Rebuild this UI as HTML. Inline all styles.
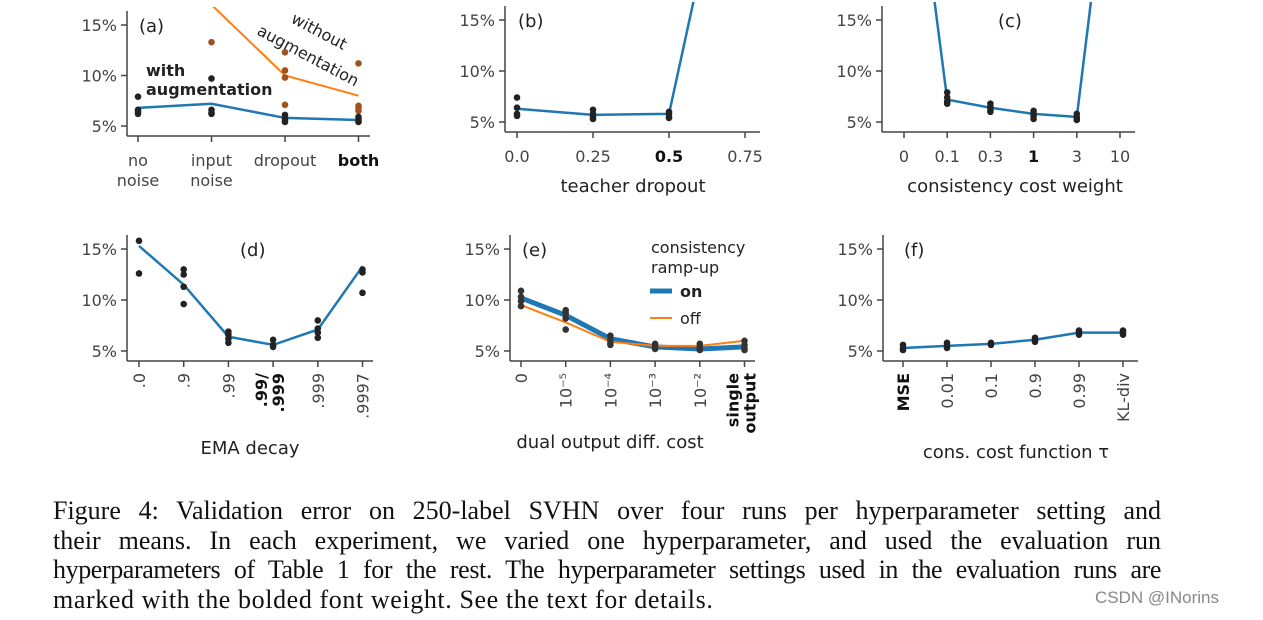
<!DOCTYPE html>
<html><head><meta charset="utf-8"><style>
body{margin:0;background:#fff;width:1263px;height:620px;overflow:hidden}
svg{position:absolute;left:0;top:0}
.cap{position:absolute;left:53px;top:496px;width:1108px;font-family:"Liberation Serif",serif;font-size:26px;line-height:29.5px;color:#111}
.cap div{text-align:justify;text-align-last:justify;white-space:nowrap}
.cap div.last{text-align-last:left}
</style></head><body>
<svg id="fig" width="1263" height="490" font-family="DejaVu Sans, sans-serif"></svg>
<div class="cap">
<div style="white-space:normal">Figure 4: Validation error on 250-label SVHN over four runs per hyperparameter setting and</div>
<div style="white-space:normal">their means. In each experiment, we varied one hyperparameter, and used the evaluation run</div>
<div style="white-space:normal;letter-spacing:-0.4px">hyperparameters of Table 1 for the rest. The hyperparameter settings used in the evaluation runs are</div>
<div class="last" style="letter-spacing:0.6px">marked with the bolded font weight. See the text for details.</div>
</div>
<div style="position:absolute;left:1095px;top:588px;font-family:'Liberation Sans',sans-serif;font-size:17px;color:#888">CSDN @INorins</div>
<script>
const aCats=["no noise","input noise","dropout","both"];
const aWith=[6.8,7.2,5.8,5.6];
const aWithout=[22,17,10,8];
const aDots=[[7.9,6.6,6.4,6.2],[9.7,6.6,6.3,6.2],[6.1,5.8,5.6,5.4],[5.9,5.7,5.5,5.4]];
const aDotsO=[[],[13.3],[12.3,10.5,9.8,7.1],[11.2,7.0,6.8,6.5]];
const bCats=["0.0","0.25","0.5","0.75"];
const bMean=[6.3,5.7,5.8,40];
const bDots=[[7.4,6.4,5.8,5.6],[6.2,5.8,5.5,5.3],[6.0,5.8,5.5,5.4],[]];
const cCats=["0","0.1","0.3","1","3","10"];
const cMean=[40,7.2,6.4,5.8,5.5,40];
const cDots=[[],[7.9,7.4,7.0,6.8],[6.8,6.5,6.2,6.0],[6.1,5.8,5.6,5.3],[5.8,5.5,5.3,5.2],[]];
const dCats=[".0",".9",".99",".99/.999",".999",".9997"];
const dMean=[15.3,11.5,6.4,5.6,7.1,13.3];
const dDots=[[15.8,12.6],[13.0,12.5,11.3,9.6],[6.9,6.6,6.2,5.8],[6.1,5.6,5.4],[8.0,7.2,6.8,6.3],[13.0,12.7,10.7]];
const eCats=["0","10⁻⁵","10⁻⁴","10⁻³","10⁻²","single output"];
const eOn=[10.2,8.5,6.2,5.4,5.2,5.4];
const eOff=[9.5,7.8,5.9,5.5,5.5,6.0];
const eDots=[[10.9,10.3,9.9,9.4],[9.0,8.7,8.2,7.1],[6.5,6.1,5.8,5.6],[5.7,5.5,5.3,5.2],[5.7,5.4,5.2,5.1],[6.0,5.6,5.3,5.1]];
const fCats=["MSE","0.01","0.1","0.9","0.99","KL-div"];
const fMean=[5.3,5.5,5.7,6.1,6.8,6.8];
const fDots=[[5.6,5.3,5.1],[5.8,5.5,5.3],[5.8,5.6],[6.3,6.0,5.9],[7.0,6.8,6.6],[7.0,6.8,6.6]];

const svg=document.getElementById('fig');const NS="http://www.w3.org/2000/svg";
const BLUE="#1f77b4",ORANGE="#ff7f0e",GREY="#444";
function el(t,a,p){const e=document.createElementNS(NS,t);for(const k in a)e.setAttribute(k,a[k]);(p||svg).appendChild(e);return e;}
let clipN=0;
function panel(o){
  const g=el('g',{});
  
  
  const ys=v=>o.y5-(v-5)*(o.y5-o.y15)/10;
  const xs=i=>o.x0+i*o.dx;
  const cid='c'+(clipN++);
  const cp=el('clipPath',{id:cid},g);el('rect',{x:o.ax,y:o.y15-18,width:o.xEnd-o.ax,height:o.bot-o.y15+18},cp);
  const ya=el('line',{x1:o.ax,y1:o.y15-14,x2:o.ax,y2:o.bot,stroke:GREY,'stroke-width':1.5},g);
  
  const xa=el('line',{x1:o.ax,y1:o.bot,x2:o.xEnd,y2:o.bot,stroke:GREY,'stroke-width':1.5},g);
  
  [5,10,15].forEach(v=>{el('line',{x1:o.ax-6,x2:o.ax,y1:ys(v),y2:ys(v),stroke:GREY,'stroke-width':1.5},g);
    const t=el('text',{x:o.ax-10,y:ys(v)+6,'text-anchor':'end','font-size':16,fill:GREY},g);t.textContent=v+'%';
    });
  o.cats.forEach((c,i)=>{el('line',{x1:xs(i),x2:xs(i),y1:o.bot,y2:o.bot+6,stroke:GREY,'stroke-width':1.5},g);
    const bold=i===o.boldIdx;
    if(o.rot){const t=el('text',{transform:`translate(${xs(i)+6},${o.bot+12}) rotate(-90)`,'text-anchor':'end','font-size':16,fill:bold?'#111':GREY,'font-weight':bold?'bold':'normal'},g);
      if(c.includes(' ')){const p=c.split(' ');const a=el('tspan',{x:0,dy:-12},t);a.textContent=p[0];const b=el('tspan',{x:0,dy:17},t);b.textContent=p[1];}
      else if(c.includes('/')){const p=c.split('/');const a=el('tspan',{x:0,dy:-12},t);a.textContent=p[0]+'/';const b=el('tspan',{x:0,dy:17},t);b.textContent=p[1];}
      else t.textContent=c;
      }
    else{const lines=o.wrap?c.split(' '):[c];lines.forEach((l,k)=>{const t=el('text',{x:xs(i),y:o.bot+30+k*20,'text-anchor':'middle','font-size':16,fill:bold?'#111':GREY,'font-weight':bold?'bold':'normal'},g);t.textContent=l;
      });}
  });
  const pg=el('g',{'clip-path':`url(#${cid})`},g);
  (o.series||[]).forEach(s=>{
    const pts=s.v.map((v,i)=>xs(i)+','+ys(v)).join(' ');
    const l=el('polyline',{points:pts,fill:'none',stroke:s.c,'stroke-width':s.w||2.5},pg);
    
  });
  (o.dots||[]).forEach(ds=>ds.d.forEach((arr,i)=>arr.forEach(v=>{
    const c=el('circle',{cx:xs(i),cy:ys(v),r:3.3,fill:ds.c},pg);
    })));
  const lab=el('text',{x:o.lx,y:o.y15+7,'font-size':18,fill:'#222'},g);lab.textContent='('+o.id+')';
  
  if(o.title){const t=el('text',{x:o.tx,y:o.ty,'text-anchor':'middle','font-size':18,fill:'#222'},g);t.textContent=o.title;
    }
  return g;
}
panel({id:'a',cats:aCats,boldIdx:3,wrap:true,x0:138,dx:73.5,ax:127,xEnd:370,y15:25,y5:126,bot:136,lx:139,
  series:[{v:aWithout,c:ORANGE,name:'without-augmentation-line',w:2},{v:aWith,c:BLUE,name:'with-augmentation-line'}],
  dots:[{d:aDotsO,c:'#a0521d'},{d:aDots,c:'#222'}]});
panel({id:'b',cats:bCats,boldIdx:2,x0:517,dx:76,ax:505,xEnd:760,y15:20,y5:122,bot:132,lx:518,title:'teacher dropout',tx:633,ty:192,
  series:[{v:bMean,c:BLUE,name:'mean-line'}],dots:[{d:bDots,c:'#222'}]});
panel({id:'c',cats:cCats,boldIdx:3,x0:904,dx:43.2,ax:882,xEnd:1135,y15:20,y5:122,bot:132,lx:998,title:'consistency cost weight',tx:1015,ty:192,
  series:[{v:cMean,c:BLUE,name:'mean-line'}],dots:[{d:cDots,c:'#222'}]});
panel({id:'d',cats:dCats,boldIdx:3,rot:true,x0:139,dx:44.7,ax:127,xEnd:373,y15:249,y5:351,bot:361,lx:240,title:'EMA decay',tx:250,ty:454,
  series:[{v:dMean,c:BLUE,name:'mean-line'}],dots:[{d:dDots,c:'#222'}]});
panel({id:'e',cats:eCats,boldIdx:5,rot:true,x0:521,dx:44.7,ax:510,xEnd:755,y15:249,y5:351,bot:361,lx:522,title:'dual output diff. cost',tx:610,ty:448,
  series:[{v:eOn,c:BLUE,name:'ramp-up-on-line',w:5},{v:eOff,c:ORANGE,name:'ramp-up-off-line',w:2}],dots:[{d:eDots,c:'#333'}]});
panel({id:'f',cats:fCats,boldIdx:0,rot:true,x0:903,dx:44,ax:883,xEnd:1138,y15:249,y5:351,bot:361,lx:904,title:'cons. cost function τ',tx:1016,ty:458,
  series:[{v:fMean,c:BLUE,name:'mean-line'}],dots:[{d:fDots,c:'#222'}]});
function txt(x,y,s,a){const t=el('text',Object.assign({x:x,y:y,'font-size':16,fill:'#222'},a||{}));t.textContent=s;return t;}
let t=txt(146,76,'with',{'font-weight':'bold'});
t=txt(146,95,'augmentation',{'font-weight':'bold'});
t=txt(0,0,'without',{transform:'translate(290,22) rotate(28)'});
t=txt(0,0,'augmentation',{transform:'translate(256,34) rotate(28)'});
t=txt(651,253,'consistency');
t=txt(651,273,'ramp-up');
let l=el('line',{x1:650,x2:672,y1:291,y2:291,stroke:BLUE,'stroke-width':5});
t=txt(680,297,'on',{'font-weight':'bold'});
l=el('line',{x1:650,x2:672,y1:318,y2:318,stroke:ORANGE,'stroke-width':2});
t=txt(680,324,'off');
</script>
</body></html>
